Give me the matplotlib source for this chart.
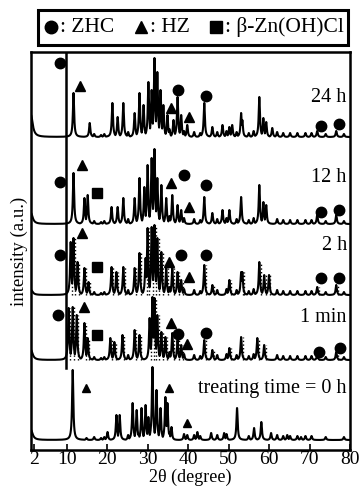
import numpy as np
import matplotlib
matplotlib.use('Agg')
import matplotlib.pyplot as plt
from matplotlib.patches import Rectangle
from matplotlib.lines import Line2D

plt.rcParams['font.family'] = ['Liberation Serif', 'DejaVu Serif']

## Data ======================================================
# peak positions (2theta, deg) and heights (a.u.) of each pattern
pos_24h = [11.7, 15.7, 21.3, 22.6, 24.0, 26.8, 28.0, 29.0, 30.2, 31.0, 31.7, 32.4,
           33.2, 33.9, 34.9, 36.4, 37.4, 38.3, 39.8, 44.0, 46.0, 48.5, 50.2, 50.9,
           53.1, 53.4, 57.6, 58.6, 59.3, 60.8, 71.9, 76.6]
hgt_24h = [44, 14, 34, 20, 34, 24, 44, 32, 55, 47, 79, 65,
           47, 32, 22, 17, 40, 22, 12, 34, 10, 12, 10, 12,
           24, 17, 40, 19, 15, 9, 6, 6]

pos_12h = [11.7, 14.4, 15.2, 21.1, 22.6, 24.0, 26.8, 28.0, 29.2, 30.0, 31.0, 31.7,
           32.4, 33.4, 34.6, 36.1, 37.4, 38.3, 44.0, 46.0, 48.5, 50.2, 53.1, 57.6,
           58.6, 59.3, 71.9, 76.6]
hgt_12h = [51, 26, 29, 17, 17, 26, 26, 46, 37, 59, 66, 75,
           46, 39, 26, 29, 19, 14, 27, 11, 14, 14, 27, 39,
           22, 19, 9, 9]

pos_2h = [11.0, 11.7, 12.7, 14.4, 15.4, 21.1, 22.3, 24.0, 26.8, 28.0, 29.5, 30.0,
          31.0, 31.7, 32.4, 33.4, 34.6, 36.1, 37.4, 38.3, 44.0, 46.0, 50.2, 53.1,
          53.4, 57.6, 58.8, 60.0, 71.9, 76.6]
hgt_2h = [53, 57, 33, 27, 13, 28, 23, 28, 27, 42, 37, 67,
          68, 70, 57, 43, 27, 27, 23, 15, 30, 10, 15, 23,
          23, 33, 20, 20, 8, 10]

pos_1m = [10.5, 11.5, 12.5, 14.4, 15.2, 20.8, 21.8, 23.8, 26.8, 28.0, 30.5, 31.2,
          31.7, 32.4, 33.4, 34.4, 36.1, 37.4, 38.3, 44.0, 46.0, 50.2, 53.1, 57.1,
          58.8, 71.9, 76.6]
hgt_1m = [52, 53, 45, 37, 22, 22, 18, 25, 30, 25, 42, 63,
          62, 45, 28, 23, 27, 20, 15, 20, 10, 12, 23, 22,
          15, 5, 8]

pos_0h = [11.5, 14.9, 20.1, 22.3, 23.1, 26.3, 27.3, 28.5, 29.5, 30.2, 31.2, 32.2,
          33.2, 34.4, 34.9, 35.9, 39.8, 42.3, 45.7, 48.9, 52.1, 56.3, 58.1, 60.5,
          64.5, 67.9]
hgt_0h = [70, 2, 8, 25, 25, 37, 30, 32, 35, 23, 73, 50,
          32, 43, 37, 13, 5, 8, 7, 7, 32, 12, 18, 7,
          5, 3]

# small bumps seen in every pattern
pos_minor = [16.8, 18.5, 19.3, 25.2, 27.8, 35.4, 39.0, 41.5, 43.0, 47.2, 49.5,
             52.0, 55.0, 56.2, 62.0, 63.5, 65.2, 67.0, 69.0, 70.5, 74.0, 78.5]
hgt_minor = [3, 2, 3, 5, 6, 8, 6, 5, 4, 5, 6, 5, 4, 6, 5, 4, 4, 4, 4, 4, 3, 3]

labels = ['24 h', '12 h', '2 h', '1 min', 'treating time = 0 h']
offsets = [313, 226, 155, 90, 10]
low_angle = [22, 11, 5, 10, 10]

# phase markers: (2theta, y)
zhc = [[(8.3, 387), (37.6, 360), (44.5, 354), (72.9, 324), (77.3, 326)],
       [(8.3, 268), (39.1, 275), (44.5, 265), (72.9, 238), (77.3, 240)],
       [(8.3, 195), (38.3, 195), (44.5, 195), (72.9, 172), (77.3, 172)],
       [(7.8, 135), (37.6, 116), (44.5, 117), (72.4, 98), (77.5, 102)],
       []]
hz = [[(13.2, 364), (35.9, 342), (40.3, 333)],
      [(13.7, 285), (35.9, 267), (40.3, 243)],
      [(13.7, 217), (35.4, 188), (40.3, 173)],
      [(14.4, 143), (35.9, 127), (39.8, 106)],
      [(14.9, 62), (35.4, 62), (39.8, 27)]]
bzn = [[], [(17.4, 257)], [(17.4, 183)], [(17.4, 115)], []]
label_y = [353, 273, 205, 133, 62]

pos_all = [pos_24h, pos_12h, pos_2h, pos_1m, pos_0h]
hgt_all = [hgt_24h, hgt_12h, hgt_2h, hgt_1m, hgt_0h]

## Plot =====================================================
x = np.arange(1.2, 80.001, 0.02)
gam = 0.18

def pattern(pos, hgt, off, la):
    prof = np.zeros_like(x)
    for p, h in zip(list(pos) + pos_minor, list(hgt) + hgt_minor):
        prof = np.maximum(prof, h * gam**2 / ((x - p)**2 + gam**2))
    return off + la * 0.5**2 / ((x - 1.2)**2 + 0.5**2) + prof

fig = plt.figure(figsize=(3.63, 4.86), dpi=100)
ax = fig.add_axes([31/363, 1-450/486, 319/363, 398/486])

for i in range(5):
    y = pattern(pos_all[i], hgt_all[i], offsets[i], low_angle[i])
    ax.plot(x, y, color='black', lw=1.5)
    if labels[i] in ('2 h', '1 min'):
        # stippled look of the scanned patterns
        ax.vlines(np.array(pos_all[i]) + 0.35, offsets[i],
                  offsets[i] + np.array(hgt_all[i]), colors='black',
                  linestyles=':', lw=1.0)
    ms = 7.5 if i < 4 else 6
    for (px, py) in zhc[i]:
        ax.plot(px, py, 'o', color='black', ms=ms)
    for (px, py) in hz[i]:
        ax.plot(px, py, '^', color='black', ms=ms)
    for (px, py) in bzn[i]:
        ax.plot(px, py, 's', color='black', ms=6.5)
    ax.text(79.2, label_y[i], labels[i], ha='right', va='center', fontsize=14.5)

ax.plot([9.9, 9.9], [82, 398], color='black', lw=1.8)

ax.set_xlim(1.2, 80)
ax.set_ylim(0, 398)
ax.set_xticks([2, 10, 20, 30, 40, 50, 60, 70, 80])
ax.tick_params(axis='x', direction='in', length=4, width=1.2, labelsize=14, pad=1)
ax.set_yticks([])
for s in ax.spines.values():
    s.set_linewidth(1.8)
ax.set_xlabel('2θ (degree)', fontsize=13)
ax.xaxis.set_label_coords(0.5, -0.047)
ax.set_ylabel('intensity (a.u.)', fontsize=13.5, labelpad=2)

# legend box, items spread between x = 50 and 344 px
fig.patches.append(Rectangle((38/363, 1-45/486), 310/363, 35/486,
                             transform=fig.transFigure, fill=False,
                             lw=2.2, edgecolor='black'))
leg_marks = ['o', '^', 's']
leg_texts = [': ZHC', ': HZ', ': β-Zn(OH)Cl']
renderer = fig.canvas.get_renderer()
yc = 1 - 27/486
txts = [fig.text(0, yc, t, ha='left', va='center', fontsize=15.5) for t in leg_texts]
widths = [t.get_window_extent(renderer).width for t in txts]
x0, x1, pad = 51, 344, 9
gap = (x1 - x0 - sum(widths) - 3 * pad) / 2
lx = x0
for m, t, w in zip(leg_marks, txts, widths):
    fig.lines.append(Line2D([lx/363], [yc], marker=m, color='black',
                            ms=9 if m != 's' else 8, transform=fig.transFigure))
    t.set_x((lx + pad)/363)
    lx = lx + pad + w + gap

fig.savefig('out.png', dpi=100)
